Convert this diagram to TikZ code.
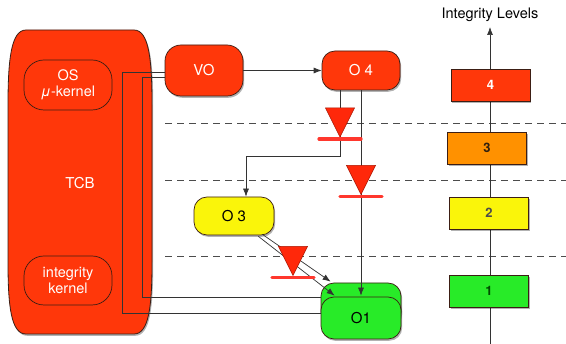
\documentclass[tikz,border=0pt]{standalone}
\usepackage{fontspec}
\setmainfont{TeX Gyre Heros}
\usetikzlibrary{arrows.meta,shadows}

\definecolor{tcbred}{RGB}{255,55,10}
\definecolor{lvlorange}{RGB}{255,145,0}
\definecolor{lvlyellow}{RGB}{250,245,10}
\definecolor{lvlgreen}{RGB}{40,235,40}
\definecolor{edgedark}{RGB}{60,30,20}
\definecolor{diodered}{RGB}{255,40,10}
\definecolor{diodeedge}{RGB}{170,20,0}
\definecolor{diodebar}{RGB}{255,55,45}

\tikzset{
  x=1pt, y=1pt,
  softshadow/.style={drop shadow={shadow xshift=1.2pt, shadow yshift=-1.8pt, opacity=0.3, fill=black}},
  objbox/.style={draw=edgedark, line width=0.7pt, rounded corners=13pt,
    minimum width=78pt, minimum height=40pt, inner sep=0pt,
    font=\fontsize{15}{17}\selectfont, softshadow},
  redobj/.style={objbox, fill=tcbred, text=white},
  kernelbox/.style={draw=edgedark, line width=0.7pt, rounded corners=20pt,
    fill=tcbred, text=white, minimum width=88pt, minimum height=50pt,
    inner sep=0pt, align=center, font=\fontsize{14.5}{16}\selectfont},
  lvlbox/.style={draw=edgedark, line width=0.7pt, minimum width=79pt,
    minimum height=32pt, inner sep=0pt, font=\fontsize{13}{15}\selectfont\bfseries, softshadow},
  conn/.style={draw=black!80, line width=0.7pt},
  tip/.style={-{Latex[length=8pt,width=6pt]}},
  levelsep/.style={draw=black!70, line width=0.8pt, dash pattern=on 7pt off 5pt},
  diode/.pic={
    \filldraw[draw=diodeedge, fill=diodered, line width=0.5pt]
      (-14.5,14.5) -- (14.5,14.5) -- (0,-14.5) -- cycle;
    \draw[diodebar, line width=3.2pt, line cap=round] (-21,-16.5) -- (21,-16.5);
  }
}

\begin{document}
\begin{tikzpicture}
\useasboundingbox (0,0) rectangle (566,-344);
\fill[white] (0,0) rectangle (566,-344);

% trusted computing base
\path[draw=edgedark, line width=0.8pt, fill=tcbred, softshadow]
  (26,-30) -- (134,-30)
  .. controls (149,-30) and (152,-60) .. (152,-105) -- (152,-262)
  .. controls (152,-306) and (149,-334) .. (134,-334) -- (26,-334)
  .. controls (11,-334) and (8,-306) .. (8,-262) -- (8,-105)
  .. controls (8,-60) and (11,-30) .. (26,-30) -- cycle;
\node[kernelbox] (os) at (68,-85) {OS\\\textit{μ}-kernel};
\node[kernelbox, minimum height=49pt] (ik) at (68,-280.5) {integrity\\kernel};
\node[text=white, font=\fontsize{15}{17}\selectfont] (tcb) at (80,-183) {TCB};

% separators between integrity levels
\draw[levelsep] (165,-123) -- (566,-123);
\draw[levelsep] (165,-180) -- (566,-180);
\draw[levelsep] (165,-256) -- (566,-256);

% integrity level axis
\node[font=\fontsize{14.5}{16}\selectfont] (axtitle) at (490,-15) {Integrity Levels};
\coordinate (axbot) at (490,-344);
\coordinate (axtop) at (490,-27);
\draw[conn, tip] (axbot) -- (axtop);
\node[lvlbox, fill=tcbred, text=white] (l4) at (490.5,-85) {4};
\node[lvlbox, fill=lvlorange, text=black!75!brown] (l3) at (487,-148) {3};
\node[lvlbox, fill=lvlyellow, text=black!70] (l2) at (489,-213) {2};
\node[lvlbox, fill=lvlgreen, text=black!70!green] (l1) at (489,-291) {1};

% objects
\node[redobj, minimum height=51pt, rounded corners=16pt] (vo) at (204,-70.5) {VO};
\node[redobj, minimum height=39pt] (o4) at (361,-70.5) {O 4};
\node[objbox, fill=lvlyellow, minimum width=80pt, minimum height=38pt] (o3) at (234,-216) {O 3};
\node[objbox, fill=lvlgreen, minimum width=80pt, minimum height=42pt] (o1b) at (361,-304) {};
\node[objbox, fill=lvlgreen, minimum width=80pt, minimum height=42pt] (o1) at (361,-318) {O1};

% information flows
\draw[conn, tip] (vo.east) -- (o4.west);
\draw[conn, tip] ([xshift=-21pt]o4.south) -- ++(0,-66) -| ([xshift=12pt]o3.north);
\draw[conn, tip] (o4.south) -- ([yshift=1pt]o1.north);
\draw[conn, tip] ([xshift=-12pt,yshift=1pt]o3.south east) -- ([xshift=10pt,yshift=1pt]o1b.north west);
\draw[conn, tip] ([xshift=-16pt,yshift=-1pt]o3.south east) -- ([xshift=14pt,yshift=1pt]o1.north west);

% links through the TCB
\draw[conn] ([yshift=-1.5pt]vo.west) -- ++(-42,0) |- ([yshift=5pt]o1.west);
\draw[conn] ([yshift=-6.5pt]vo.west) -- ++(-22,0) |- ([yshift=7pt]o1b.west);

% integrity checks
\pic at (340,-122.5) {diode};
\pic at (361,-180) {diode};
\pic at (293,-261) {diode};
\end{tikzpicture}
\end{document}
